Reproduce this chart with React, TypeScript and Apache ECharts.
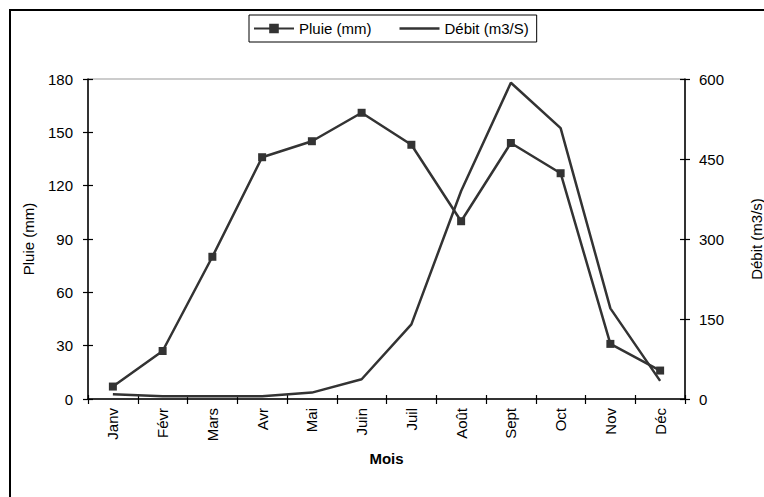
import React, { useEffect, useRef } from "react";
import * as echarts from "echarts";

const months = ["Janv", "Févr", "Mars", "Avr", "Mai", "Juin", "Juil", "Août", "Sept", "Oct", "Nov", "Déc"];
const pluie = [7, 27, 80, 136, 145, 161, 143, 100, 144, 127, 31, 16];
const debit = [9, 5, 5, 5, 12, 37, 140, 390, 593, 508, 170, 34];
const leftTicks = { min: 0, max: 180, interval: 30 };
const rightTicks = { min: 0, max: 600, interval: 150 };

const FONT = "'Liberation Sans', Arial, sans-serif";
const INK = "#333333";

export default function App() {
  const ref = useRef<HTMLDivElement>(null);
  useEffect(() => {
    if (!ref.current) return;
    const chart = echarts.init(ref.current, undefined, { renderer: "svg" });
    const txt = { fontFamily: FONT, fontSize: 15, color: "#000" };
    const axisLine = { show: true, lineStyle: { color: "#000", width: 1.5 } };
    const tick = { color: "#000", width: 1.2 };
    chart.setOption({
      animation: false,
      backgroundColor: "#fff",
      textStyle: { fontFamily: FONT },
      grid: {
        left: 88, right: 79, top: 79, bottom: 98,
        show: true, borderColor: "#999", borderWidth: 1,
        containLabel: false,
        outerBoundsMode: "none",
      },
      legend: {
        left: 249, top: 15,
        padding: [6, 8, 6, 4],
        borderColor: "#000", borderWidth: 1,
        itemWidth: 40, itemHeight: 12, itemGap: 28,
        textStyle: { ...txt },
        data: [
          { name: "Pluie (mm)" },
          { name: "Débit (m3/S)", icon: "path://M0,0H40V2.5H0Z" },
        ],
      },
      graphic: [
        {
          type: "rect",
          shape: { x: 10, y: 10, width: 770, height: 510 },
          style: { fill: "none", stroke: "#000", lineWidth: 2 },
          silent: true,
        },
      ],
      xAxis: [
        {
          type: "category", data: months, boundaryGap: true,
          name: "Mois", nameLocation: "middle", nameGap: 52,
          nameTextStyle: { ...txt, fontWeight: "bold" },
          axisLine,
          axisTick: { show: true, length: 5, lineStyle: tick },
          axisLabel: { ...txt, rotate: 90, margin: 9, interval: 0 },
          splitLine: { show: false },
        },
        {
          type: "category", data: months, boundaryGap: true, position: "bottom",
          axisLine: { show: false },
          axisTick: { show: true, inside: true, length: 4, lineStyle: tick },
          axisLabel: { show: false },
          splitLine: { show: false },
        },
      ],
      yAxis: [
        {
          type: "value", position: "left", ...leftTicks,
          name: "Pluie (mm)", nameLocation: "middle", nameGap: 52, nameRotate: 90,
          nameTextStyle: { ...txt },
          axisLine,
          axisTick: { show: true, length: 5, lineStyle: tick },
          axisLabel: { ...txt, margin: 15 },
          splitLine: { show: false },
        },
        {
          type: "value", position: "right", ...rightTicks,
          name: "Débit (m3/s)", nameLocation: "middle", nameGap: 64, nameRotate: 90,
          nameTextStyle: { ...txt },
          axisLine,
          axisTick: { show: true, length: 5, lineStyle: tick },
          axisLabel: { ...txt, margin: 14 },
          splitLine: { show: false },
        },
        {
          type: "value", position: "left", ...leftTicks,
          axisLine: { show: false },
          axisTick: { show: true, inside: true, length: 5, lineStyle: tick },
          axisLabel: { show: false },
          splitLine: { show: false },
        },
        {
          type: "value", position: "right", ...rightTicks,
          axisLine: { show: false },
          axisTick: { show: true, inside: true, length: 5, lineStyle: tick },
          axisLabel: { show: false },
          splitLine: { show: false },
        },
      ],
      series: [
        {
          name: "Pluie (mm)", type: "line", data: pluie,
          xAxisIndex: 0, yAxisIndex: 0,
          symbol: "rect", symbolSize: 8, showSymbol: true,
          lineStyle: { color: INK, width: 2.5 },
          itemStyle: { color: INK },
          z: 3,
        },
        {
          name: "Débit (m3/S)", type: "line", data: debit,
          xAxisIndex: 0, yAxisIndex: 1,
          symbol: "none", showSymbol: false,
          lineStyle: { color: INK, width: 2.5 },
          itemStyle: { color: INK },
          z: 2,
        },
      ],
    });
    return () => chart.dispose();
  }, []);
  return (
    <div
      ref={ref}
      style={{ position: "absolute", left: 0, top: 0, width: 764, height: 497 }}
    />
  );
}
